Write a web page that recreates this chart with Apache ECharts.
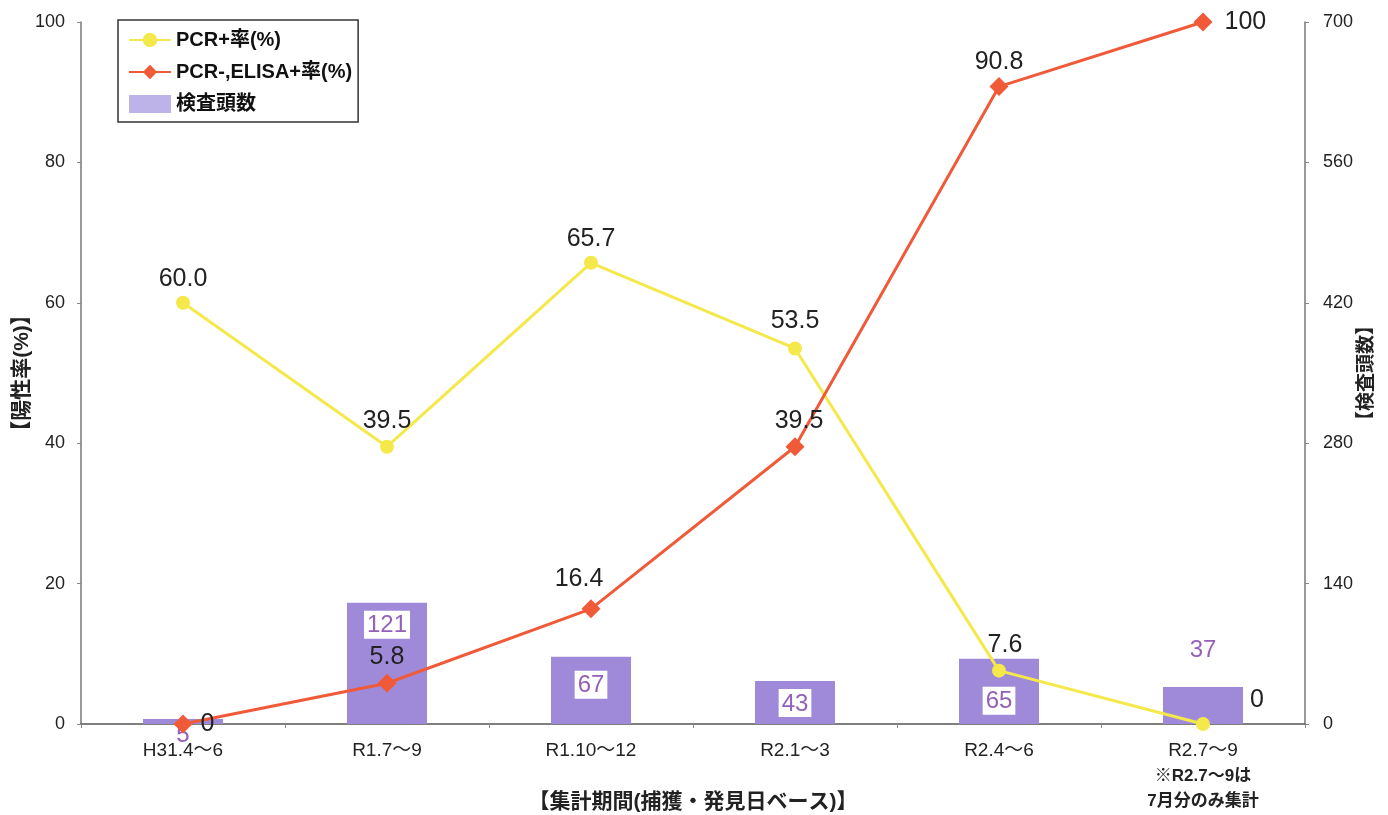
<!DOCTYPE html>
<html><head><meta charset="utf-8">
<script src="https://cdn.jsdelivr.net/npm/echarts@6/dist/echarts.min.js"></script>
<style>html,body{margin:0;padding:0;background:#fff}#c{width:1388px;height:815px}</style>
</head><body><div id="c"></div>
<script>
const categories = ['H31.4～6', 'R1.7～9', 'R1.10～12', 'R2.1～3', 'R2.4～6', 'R2.7～9'];
const pcrPositive = [60.0, 39.5, 65.7, 53.5, 7.6, 0];
const elisaPositive = [0, 5.8, 16.4, 39.5, 90.8, 100];
const testCount = [5, 121, 67, 43, 65, 37];
const leftTicks = [0, 20, 40, 60, 80, 100];
const rightTicks = [0, 140, 280, 420, 560, 700];
const pcrText = ['60.0', '39.5', '65.7', '53.5', '7.6', '0'];
const elisaText = ['0', '5.8', '16.4', '39.5', '90.8', '100'];

const FONT = '"Liberation Sans", "Noto Sans CJK JP", sans-serif';
const labelBase = {show: true, fontSize: 25, color: '#222', fontFamily: FONT};

// label placement overrides (style, not data)
const pcrLabelPos = [
  {position: 'top', distance: 4},
  {position: 'top', distance: 6},
  {position: 'top', distance: 4},
  {position: 'top', distance: 8},
  {position: 'top', distance: 6, offset: [6, 0]},
  {position: 'right', distance: 40, offset: [0, -24]}
];
const elisaLabelPos = [
  {position: 'right', distance: 8},
  {position: 'top', distance: 4},
  {position: 'top', distance: 8, offset: [-12, 0]},
  {position: 'top', distance: 4, offset: [4, 0]},
  {position: 'top', distance: 2},
  {position: 'right', distance: 12}
];
const barLabelPos = [
  {position: 'bottom', distance: -4, backgroundColor: 'transparent'},
  {position: 'insideTop', distance: 8},
  {position: 'insideTop', distance: 14},
  {position: 'insideTop', distance: 8},
  {position: 'insideTop', distance: 28},
  {position: 'top', distance: 24, backgroundColor: 'transparent'}
];

const chart = echarts.init(document.getElementById('c'));
chart.setOption({
  backgroundColor: '#fff',
  animation: false,
  textStyle: {fontFamily: FONT},
  grid: {left: 81, right: 83, top: 22, bottom: 91, outerBoundsMode: 'none', containLabel: false},
  legend: {
    orient: 'vertical', left: 118, top: 20,
    padding: [10, 6, 8, 10], itemGap: 12,
    borderColor: '#333', borderWidth: 1.5,
    itemWidth: 42, itemHeight: 18,
    textStyle: {fontSize: 20, color: '#111', fontFamily: FONT, fontWeight: 'bold'},
    data: [
      {name: 'PCR+率(%)'},
      {name: 'PCR-,ELISA+率(%)'},
      {name: '検査頭数', icon: 'rect', itemStyle: {color: '#bdb3e8'}}
    ]
  },
  xAxis: {
    type: 'category', data: categories,
    name: '【集計期間(捕獲・発見日ベース)】', nameLocation: 'middle', nameGap: 68,
    nameMoveOverlap: false,
    nameTextStyle: {fontSize: 21, color: '#222', fontWeight: 'bold', fontFamily: FONT},
    axisLine: {lineStyle: {color: '#555', width: 1.5}},
    axisTick: {show: true, alignWithLabel: false, lineStyle: {color: '#888'}, length: 4},
    axisLabel: {
      fontSize: 19, color: '#222', margin: 14, fontFamily: FONT, lineHeight: 26,
      formatter: function (v, i) {
        if (i === categories.length - 1) return v + '\n{n|※R2.7～9は}\n{n|7月分のみ集計}';
        return v;
      },
      rich: {n: {fontSize: 17, color: '#222', fontWeight: 'bold', lineHeight: 25, fontFamily: FONT}}
    }
  },
  yAxis: [
    {
      type: 'value', min: 0, max: 100, interval: 20,
      name: '【陽性率(%)】', nameLocation: 'middle', nameGap: 48, nameRotate: 90,
      nameMoveOverlap: false,
      nameTextStyle: {fontSize: 21, color: '#222', fontWeight: 'bold', fontFamily: FONT},
      axisLine: {show: true, lineStyle: {color: '#777', width: 1.5}},
      axisTick: {show: true, length: 4, lineStyle: {color: '#888'}},
      splitLine: {show: false},
      axisLabel: {fontSize: 18, color: '#222', margin: 16, fontFamily: FONT,
        formatter: v => leftTicks.includes(v) ? String(v) : ''}
    },
    {
      type: 'value', min: 0, max: 700, interval: 140,
      name: '【検査頭数】', nameLocation: 'middle', nameGap: 52, nameRotate: 90,
      nameMoveOverlap: false,
      nameTextStyle: {fontSize: 19, color: '#222', fontWeight: 'bold', fontFamily: FONT},
      axisLine: {show: true, lineStyle: {color: '#777', width: 1.5}},
      axisTick: {show: true, length: 4, lineStyle: {color: '#888'}},
      splitLine: {show: false},
      axisLabel: {fontSize: 18, color: '#222', margin: 18, fontFamily: FONT,
        formatter: v => rightTicks.includes(v) ? String(v) : ''}
    }
  ],
  series: [
    {
      name: '検査頭数', type: 'bar', yAxisIndex: 1, barWidth: 80,
      itemStyle: {color: '#9f8ad9'},
      z: 1,
      data: testCount.map((v, i) => ({
        value: v,
        label: Object.assign({
          show: true, fontSize: 24, color: '#9460b8', fontFamily: FONT,
          backgroundColor: '#fff', padding: [3, 3, 1, 3]
        }, barLabelPos[i])
      }))
    },
    {
      name: 'PCR+率(%)', type: 'line', yAxisIndex: 0,
      symbol: 'circle', symbolSize: 14,
      lineStyle: {color: '#f4e84a', width: 3},
      itemStyle: {color: '#f4e84a'},
      z: 3,
      data: pcrPositive.map((v, i) => ({
        value: v,
        label: Object.assign({}, labelBase, pcrLabelPos[i], {formatter: pcrText[i]})
      }))
    },
    {
      name: 'PCR-,ELISA+率(%)', type: 'line', yAxisIndex: 0,
      symbol: 'diamond', symbolSize: 19,
      lineStyle: {color: '#f05a38', width: 3},
      itemStyle: {color: '#f05a38'},
      z: 4,
      data: elisaPositive.map((v, i) => ({
        value: v,
        label: Object.assign({}, labelBase, elisaLabelPos[i], {formatter: elisaText[i]})
      }))
    }
  ]
});
</script>
</body></html>
